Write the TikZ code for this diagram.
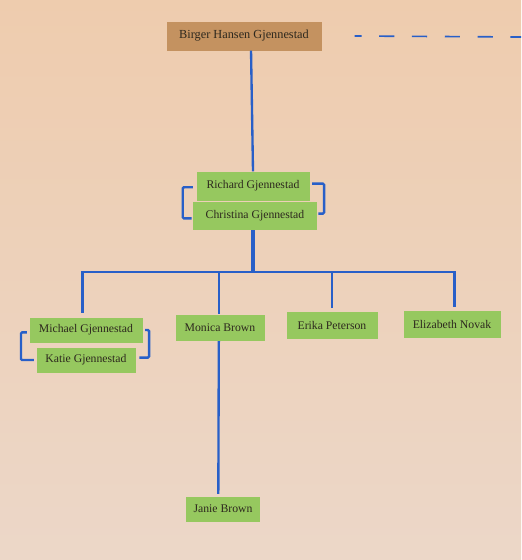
\documentclass[tikz,border=0pt]{standalone}
\usepackage{fontspec}
\setmainfont{Liberation Serif}
\usetikzlibrary{calc}
\definecolor{wall}{RGB}{238,204,174}
\definecolor{wall_low}{RGB}{236,215,200}
\definecolor{card_green}{RGB}{150,200,95}
\definecolor{card_brown}{RGB}{196,146,96}
\definecolor{pen_blue}{RGB}{40,95,200}
\definecolor{ink}{RGB}{45,40,30}

\begin{document}
\begin{tikzpicture}
  [x=0.03cm,y=-0.03cm]
      \tikzstyle{person_style} = [fill=card_green, text=ink, inner sep=0pt, font=\fontsize{10}{12}\selectfont]
      \tikzstyle{edge_style} = [draw=pen_blue, line width=2pt]
      \tikzstyle{bracket_style} = [draw=pen_blue, line width=2pt, rounded corners=1pt]
  \shade[top color=wall, bottom color=wall_low] (0,0) rectangle (521,560);
  \useasboundingbox (0,0) rectangle (521,560);
  \node[person_style, fill=card_brown, minimum width=155*0.03cm, minimum height=29*0.03cm, font=\fontsize{10.5}{12}\selectfont] (n_birger) at (244,36) {Birger Hansen Gjennestad};
  \node[person_style, minimum width=113*0.03cm, minimum height=29*0.03cm] (n_richard) at (253,186) {Richard Gjennestad};
  \node[person_style, minimum width=124*0.03cm, minimum height=28*0.03cm] (n_christina) at (255,216) {Christina Gjennestad};
  \node[person_style, minimum width=113*0.03cm, minimum height=25*0.03cm] (n_michael) at (86,330) {Michael Gjennestad};
  \node[person_style, minimum width=99*0.03cm, minimum height=25*0.03cm] (n_katie) at (86,360) {Katie Gjennestad};
  \node[person_style, minimum width=89*0.03cm, minimum height=26*0.03cm] (n_monica) at (220,328) {Monica Brown};
  \node[person_style, minimum width=91*0.03cm, minimum height=27*0.03cm] (n_erika) at (332,325) {Erika Peterson};
  \node[person_style, minimum width=97*0.03cm, minimum height=27*0.03cm] (n_elizabeth) at (452,324) {Elizabeth Novak};
  \node[person_style, minimum width=74*0.03cm, minimum height=25*0.03cm] (n_janie) at (223,509) {Janie Brown};
  \coordinate (c_fork) at (253,272);
  \coordinate (c_dash_end) at (521,37);
  % lines down the tree
  \draw[edge_style] ([xshift=6pt]n_birger.south) -- ([xshift=0pt]n_richard.north);
  \draw[edge_style, line width=2.6pt] (n_christina.south -| c_fork) -- (c_fork);
  \draw[edge_style] (c_fork) -| ([xshift=-3pt,yshift=4pt]n_michael.north);
  \draw[edge_style] (c_fork) -| ([xshift=-1pt,yshift=1pt]n_monica.north);
  \draw[edge_style] (c_fork) -| ([yshift=3pt]n_erika.north);
  \draw[edge_style] (c_fork) -| ([xshift=2pt,yshift=3pt]n_elizabeth.north);
  \draw[edge_style] ([xshift=-1pt]n_monica.south) -- ([xshift=-4pt,yshift=2pt]n_janie.north);
  % couples
  \draw[bracket_style] ([xshift=-3pt,yshift=-1pt]n_richard.west) -- ++(-10,0) |- ([xshift=-1pt,yshift=-2pt]n_christina.west);
  \draw[bracket_style] ([xshift=2pt,yshift=2pt]n_richard.east) -- ++(12,0) |- ([xshift=1pt,yshift=2pt]n_christina.east);
  \draw[bracket_style] ([xshift=-2pt,yshift=-2pt]n_michael.west) -- ++(-6,0) |- ([xshift=-2pt]n_katie.west);
  \draw[bracket_style] ([xshift=2pt]n_michael.east) -- ++(4,0) |- ([xshift=3pt,yshift=2pt]n_katie.east);
  % dashed line to the right
  \draw[edge_style, line width=1.4pt, dash pattern=on 13pt off 15pt, dash phase=7pt] ([xshift=28pt]n_birger.east) -- (c_dash_end);
\end{tikzpicture}
\end{document}
